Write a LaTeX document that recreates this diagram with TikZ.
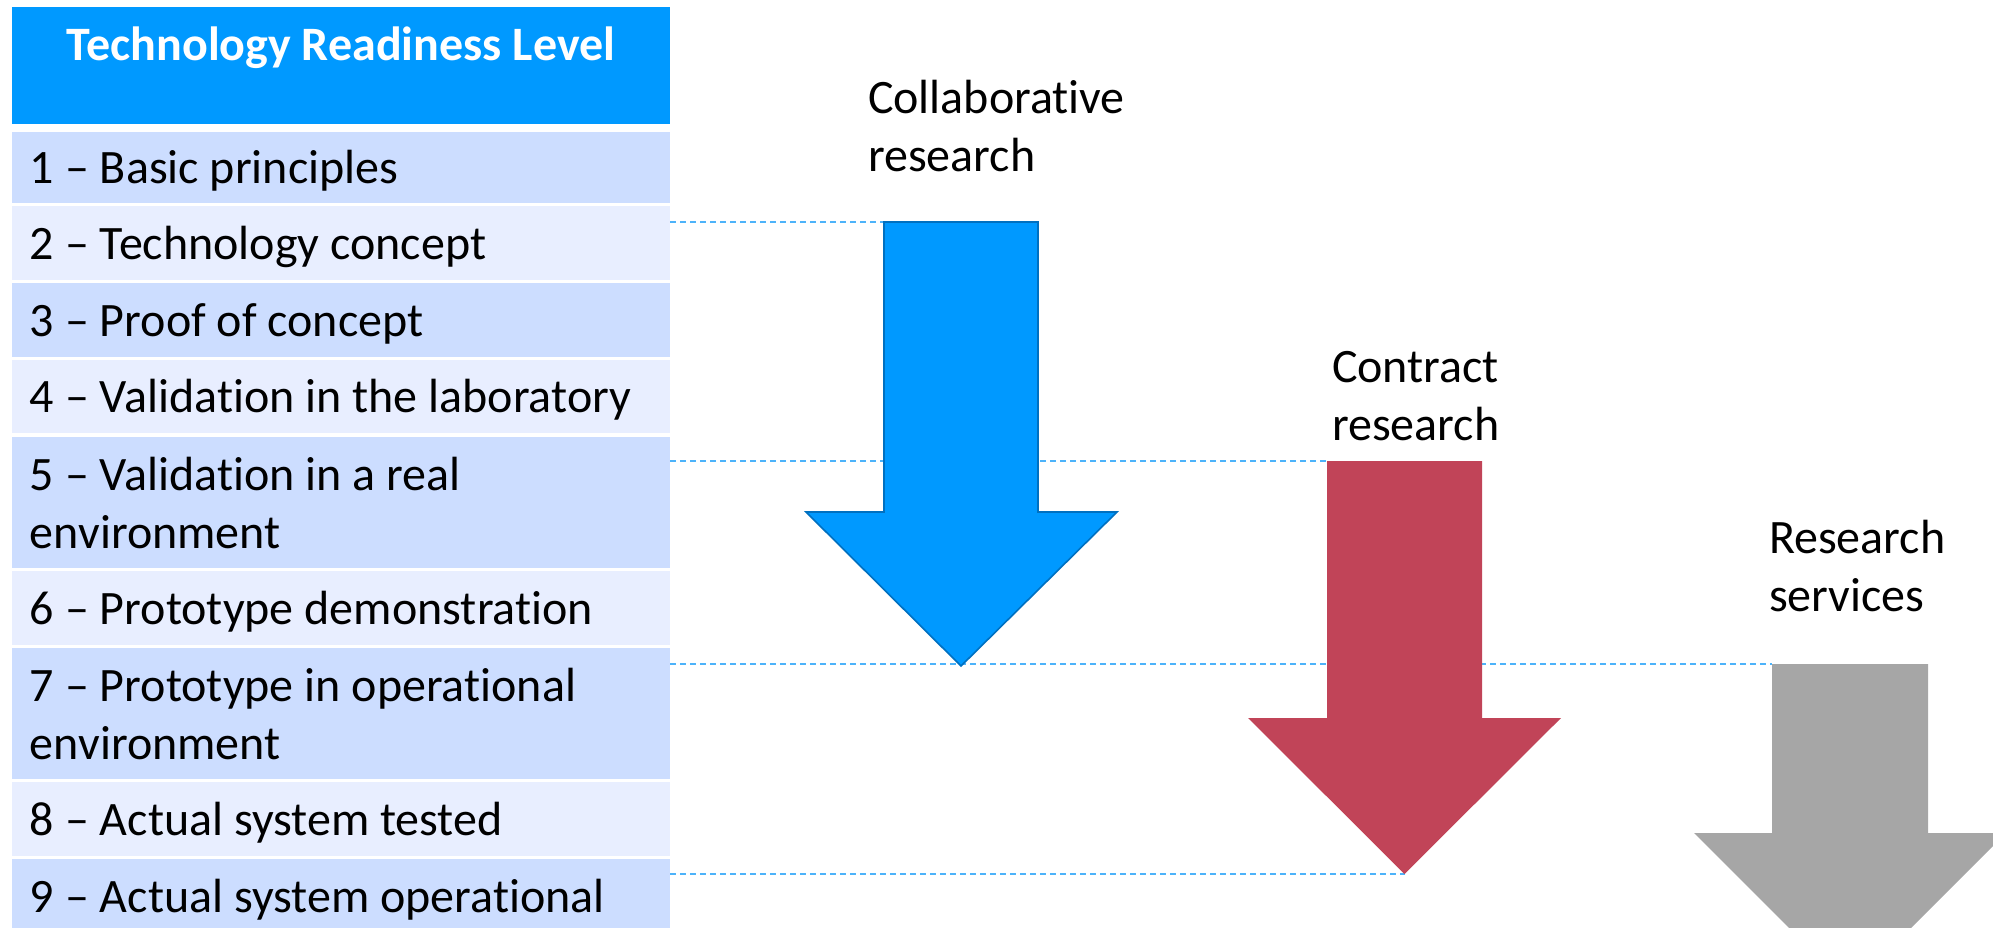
\documentclass[tikz,border=0pt]{standalone}
\usepackage{fontspec}
\setmainfont[Ligatures=NoCommon]{Carlito}
\definecolor{trlhead}{HTML}{0099FF}
\definecolor{rowA}{HTML}{CCDDFF}
\definecolor{rowB}{HTML}{E8EEFF}
\definecolor{guide}{HTML}{4DB3FA}
\definecolor{collab}{HTML}{0099FF}
\definecolor{collabedge}{HTML}{0070C0}
\definecolor{contract}{HTML}{C14458}
\definecolor{services}{HTML}{A6A6A6}
% two lines of a row label, baseline on the first line
\newcommand{\twoln}[2]{\begin{tabular}[t]{@{}l@{}}#1\\#2\end{tabular}}
\begin{document}
\begin{tikzpicture}[x=0.5pt,y=-0.5pt,
  every node/.style={inner sep=0pt, outer sep=0pt},
  txt/.style={anchor=base west, font=\fontsize{24pt}{29pt}\selectfont},
  rowbox/.style={anchor=north west, minimum width=329pt},
  rowdark/.style={rowbox, fill=rowA},
  rowlight/.style={rowbox, fill=rowB},
  guideline/.style={draw=guide, line width=0.6pt, dash pattern=on 3pt off 2pt},
  bigarrow/.style={line join=miter}
]
\useasboundingbox (0,0) rectangle (1993,927);
\clip (0,0) rectangle (1993,927);

% ---- table of readiness levels ----
\node[rowbox, fill=trlhead, minimum height=58.5pt] (head) at (12,7) {};
\node[anchor=base, font=\fontsize{24pt}{29pt}\selectfont\bfseries, text=white]
  (title) at (341,60) {Technology Readiness Level};

\node[rowdark,  minimum height=35.5pt] (r1) at (12,132) {};
\node[rowlight, minimum height=37pt]   (r2) at (12,206) {};
\node[rowdark,  minimum height=37pt]   (r3) at (12,283) {};
\node[rowlight, minimum height=36.5pt] (r4) at (12,360) {};
\node[rowdark,  minimum height=65.5pt] (r5) at (12,437) {};
\node[rowlight, minimum height=37pt]   (r6) at (12,571) {};
\node[rowdark,  minimum height=65.5pt] (r7) at (12,648) {};
\node[rowlight, minimum height=37pt]   (r8) at (12,782) {};
\node[rowdark,  minimum height=37pt]   (r9) at (12,859) {};

\node[txt] (t1) at (30,183) {1 – Basic principles};
\node[txt] (t2) at (30,259) {2 – Technology concept};
\node[txt] (t3) at (30,336) {3 – Proof of concept};
\node[txt] (t4) at (30,412) {4 – Validation in the laboratory};
\node[txt] (t5) at (30,490) {\twoln{5 – Validation in a real}{environment}};
\node[txt] (t6) at (30,624) {6 – Prototype demonstration};
\node[txt] (t7) at (30,701) {\twoln{7 – Prototype in operational}{environment}};
\node[txt] (t8) at (30,835) {8 – Actual system tested};
\node[txt] (t9) at (30,912) {9 – Actual system operational};

% ---- arrow geometry ----
% collaborative research
\coordinate (bTL) at (884,222);  \coordinate (bTR) at (1038,222);
\coordinate (bSL) at (884,512);  \coordinate (bSR) at (1038,512);
\coordinate (bHL) at (806,512);  \coordinate (bHR) at (1117,512);
\coordinate (bTip) at (961,666);
% contract research
\coordinate (rTL) at (1327,461); \coordinate (rTR) at (1482,461);
\coordinate (rSL) at (1327,718); \coordinate (rSR) at (1482,718);
\coordinate (rHL) at (1248,718); \coordinate (rHR) at (1561,718);
\coordinate (rTip) at (1404.5,874);
% research services
\coordinate (gTL) at (1772,664); \coordinate (gTR) at (1928,664);
\coordinate (gSL) at (1772,833); \coordinate (gSR) at (1928,833);
\coordinate (gHL) at (1694,833); \coordinate (gHR) at (2006,833);
\coordinate (gTip) at (1850,989);

% ---- guide lines from the table to the arrows ----
\draw[guideline] (r2.east |- bTL) -- (bTL);
\draw[guideline] (r5.east |- rTL) -- (rTL);
\draw[guideline] (r7.east |- gTL) -- (gTL);
\draw[guideline] (r9.east |- rTip) -- (rTip);

% ---- arrows ----
\filldraw[bigarrow, fill=collab, draw=collabedge, line width=0.8pt]
  (bTL) -- (bTR) -- (bSR) -- (bHR) -- (bTip) -- (bHL) -- (bSL) -- cycle;
\fill[bigarrow, contract]
  (rTL) -- (rTR) -- (rSR) -- (rHR) -- (rTip) -- (rHL) -- (rSL) -- cycle;
\fill[bigarrow, services]
  (gTL) -- (gTR) -- (gSR) -- (gHR) -- (gTip) -- (gHL) -- (gSL) -- cycle;

% ---- arrow labels ----
\node[txt] (lcollab) at (868,113) {\twoln{Collaborative}{research}};
\node[txt] (lcontract) at (1332,382) {\twoln{Contract}{research}};
\node[txt] (lservices) at (1769,553) {\twoln{Research}{services}};
\end{tikzpicture}
\end{document}
